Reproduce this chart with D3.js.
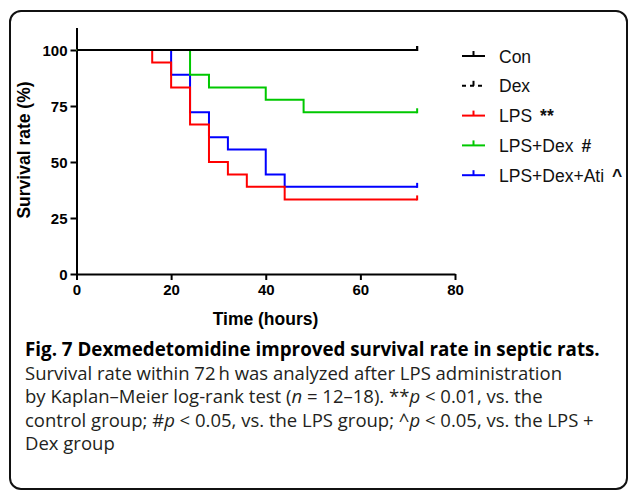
<!DOCTYPE html>
<html>
<head>
<meta charset="utf-8">
<script src="https://cdn.jsdelivr.net/npm/d3@7/dist/d3.min.js"></script>
<style>
  html, body { margin: 0; padding: 0; background: #fff; }
  svg { display: block; }
</style>
</head>
<body>
<svg id="chart" width="629" height="493"></svg>
<script>
// ---- data ----
const seriesNames = ["Con", "Dex", "LPS", "LPS+Dex", "LPS+Dex+Ati"];
const seriesMarks = ["", "", "**", "#", "^"];
const conTimes = [0, 72];
const conSurv = [100, 100];
const dexTimes = [0, 72];
const dexSurv = [100, 100];
const lpsTimes = [0, 16, 20, 24, 28, 32, 36, 44, 72];
const lpsSurv = [100, 94.4, 83.3, 66.7, 50, 44.4, 38.9, 33.3, 33.3];
const lpsDexTimes = [0, 24, 28, 40, 48, 72];
const lpsDexSurv = [100, 88.9, 83.3, 77.8, 72.2, 72.2];
const atiTimes = [0, 20, 24, 28, 32, 40, 44, 72];
const atiSurv = [100, 88.9, 72.2, 61.1, 55.6, 44.4, 38.9, 38.9];
const xTicks = [0, 20, 40, 60, 80];
const yTicks = [0, 25, 50, 75, 100];
const xLabel = "Time (hours)";
const yLabel = "Survival rate (%)";
const captionTitle = "Fig. 7 Dexmedetomidine improved survival rate in septic rats.";

const colors = ["#000000", "#000000", "#ff0000", "#00c800", "#0000ff"];
const dashes = [null, "4,4", null, null, null];

const series = [
  [conTimes, conSurv], [dexTimes, dexSurv], [lpsTimes, lpsSurv],
  [lpsDexTimes, lpsDexSurv], [atiTimes, atiSurv]
].map(([t, s], i) => ({
  name: seriesNames[i], mark: seriesMarks[i], color: colors[i], dash: dashes[i],
  pts: t.map((v, j) => ({ t: v, s: s[j] }))
}));

const svg = d3.select("#chart");

// frame
svg.append("rect")
  .attr("x", 10).attr("y", 11).attr("width", 617).attr("height", 478)
  .attr("rx", 11).attr("ry", 11)
  .attr("fill", "none").attr("stroke", "#111").attr("stroke-width", 2);

const x = d3.scaleLinear().domain([0, 80]).range([76.5, 455]);
const y = d3.scaleLinear().domain([0, 110]).range([274, 27.6]);

const axisFont = "'Liberation Sans', Arial, sans-serif";

// axes
const gx = svg.append("g").attr("transform", `translate(0,${y(0)})`)
  .call(d3.axisBottom(x).tickValues(xTicks).tickSize(6).tickSizeOuter(0).tickPadding(4));
const gy = svg.append("g").attr("transform", `translate(${x(0)},0)`)
  .call(d3.axisLeft(y).tickValues(yTicks).tickSize(6).tickSizeOuter(0).tickPadding(3));
[gx, gy].forEach(g => {
  g.selectAll("path, line").attr("stroke", "#000").attr("stroke-width", 2);
  g.selectAll("text").attr("fill", "#000").style("font-family", axisFont)
    .style("font-weight", "bold").style("font-size", "15px");
});
gy.selectAll("text").attr("dy", "0.36em");

// axis labels
svg.append("text")
  .attr("x", 265.5).attr("y", 325)
  .attr("text-anchor", "middle")
  .style("font-family", axisFont).style("font-weight", "bold").style("font-size", "17.5px")
  .text(xLabel);
svg.append("text")
  .attr("transform", `translate(30,150) rotate(-90)`)
  .attr("text-anchor", "middle")
  .style("font-family", axisFont).style("font-weight", "bold").style("font-size", "17.5px")
  .text(yLabel);

// survival curves (coloured groups underneath, controls on top)
const line = d3.line().x(d => x(d.t)).y(d => y(d.s)).curve(d3.curveStepAfter);
const order = [4, 2, 3, 1, 0];
order.forEach(i => {
  const s = series[i];
  const g = svg.append("g");
  g.append("path").datum(s.pts)
    .attr("d", line)
    .attr("fill", "none").attr("stroke", s.color).attr("stroke-width", 2)
    .attr("stroke-dasharray", s.dash)
    .attr("shape-rendering", i <= 1 ? "crispEdges" : null);
  const last = s.pts[s.pts.length - 1];
  g.append("line")
    .attr("x1", x(last.t)).attr("x2", x(last.t))
    .attr("y1", y(last.s) + 1).attr("y2", y(last.s) - 4)
    .attr("stroke", s.color).attr("stroke-width", 2);
});

// legend
const legX0 = 462, legX1 = 485, legTextX = 499, legY0 = 56, legDy = 29.8;
series.forEach((s, i) => {
  const cy = legY0 + i * legDy;
  const g = svg.append("g");
  g.append("line").attr("x1", legX0).attr("x2", legX1).attr("y1", cy).attr("y2", cy)
    .attr("stroke", s.color).attr("stroke-width", 2).attr("stroke-dasharray", s.dash);
  g.append("line").attr("x1", (legX0 + legX1) / 2).attr("x2", (legX0 + legX1) / 2)
    .attr("y1", cy).attr("y2", cy - 5)
    .attr("stroke", s.color).attr("stroke-width", 2);
  const t = g.append("text").attr("x", legTextX).attr("y", cy + 6.5)
    .style("font-family", axisFont).style("font-size", "17.5px").attr("fill", "#111");
  t.append("tspan").text(s.name);
  if (s.mark) {
    t.append("tspan").attr("dx", 8).style("font-weight", "bold").text(s.mark);
  }
});

// caption
const capFont = "'Open Sans', 'Noto Sans', sans-serif";
const cap = svg.append("g").style("font-family", capFont).attr("fill", "#231f20");
const capX = 25, capY0 = 356, capDy = 23.5;
const title = cap.append("text").attr("x", capX).attr("y", capY0)
  .style("font-weight", "bold").style("font-size", "16px").attr("fill", "#000")
  .text(captionTitle);
// fit title to its width in the reference
const tw = title.node().getComputedTextLength();
title.style("font-size", (16 * 575 / tw).toFixed(2) + "px");

const lines = [];
function capLine(k, parts) {
  const t = cap.append("text").attr("x", capX).attr("y", capY0 + k * capDy)
    .style("font-size", "16px");
  parts.forEach(p => {
    const ts = t.append("tspan").text(p[0]);
    if (p[1]) ts.style("font-style", "italic");
  });
  lines.push(t);
  return t;
}
const l1 = capLine(1, [["Survival rate within 72\u2009h was analyzed after LPS administration"]]);
capLine(2, [["by Kaplan\u2013Meier log-rank test ("], ["n", true], [" = 12\u201318). **"], ["p", true], [" < 0.01, vs. the"]]);
capLine(3, [["control group; #"], ["p", true], [" < 0.05, vs. the LPS group; ^"], ["p", true], [" < 0.05, vs. the LPS +"]]);
capLine(4, [["Dex group"]]);
const lw = l1.node().getComputedTextLength();
const fs = (16 * 537 / lw).toFixed(2) + "px";
lines.forEach(t => t.style("font-size", fs));
</script>
</body>
</html>
